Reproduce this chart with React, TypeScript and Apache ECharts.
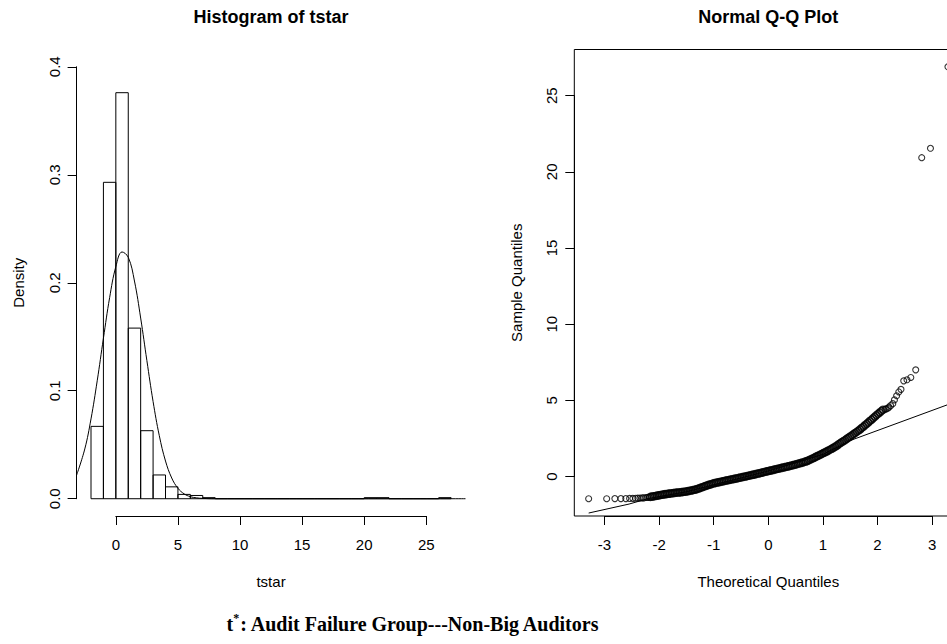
import React, { useEffect, useRef } from "react";
import * as echarts from "echarts";

// ---------------- data ----------------
// histogram of tstar (density per unit-width bin)
const histBreaks = [-2, -1, 0, 1, 2, 3, 4, 5, 6, 7, 8, 9, 10, 11, 12, 13, 14, 15, 16, 17, 18, 19, 20, 21, 22, 23, 24, 25, 26, 27];
const histDensity = [0.067, 0.293, 0.376, 0.158, 0.063, 0.022, 0.011, 0.004, 0.003, 0.001, 0, 0, 0, 0, 0, 0, 0, 0, 0, 0, 0, 0, 0.001, 0.001, 0, 0, 0, 0, 0.001];

// normal density curve drawn over the histogram
const curveX = [-3.16, -2.5, -2.0, -1.5, -1.0, -0.5, 0.0, 0.5, 1.0, 1.5, 2.0, 2.5, 3.0, 3.5, 4.0, 4.5, 5.0, 5.5, 6.0, 6.5, 7.0, 8.0, 28.16];
const curveY = [0.0218, 0.0461, 0.0739, 0.1092, 0.1486, 0.1862, 0.2149, 0.2285, 0.2236, 0.2016, 0.1673, 0.1279, 0.09, 0.0584, 0.0349, 0.0192, 0.0097, 0.0045, 0.0019, 0.0008, 0.0003, 0.0, 0.0];

const histXTicks = [0, 5, 10, 15, 20, 25];
const histYTicks = ["0.0", "0.1", "0.2", "0.3", "0.4"];

// normal Q-Q plot points
const qqTheoretical = [
  -3.29, -2.96, -2.81, -2.70, -2.61, -2.54, -2.48, -2.43, -2.39, -2.35, -2.31, -2.28, -2.24, -2.21, -2.18,
  -2.16, -2.13, -2.10, -2.07, -2.04, -2.01, -1.98, -1.95, -1.92, -1.89, -1.86, -1.83, -1.80, -1.77, -1.74,
  -1.71, -1.68, -1.65, -1.62, -1.59, -1.56, -1.53, -1.50, -1.47, -1.44, -1.41, -1.38, -1.35, -1.32, -1.29,
  -1.26, -1.23, -1.20, -1.17, -1.14, -1.11, -1.08, -1.05, -1.02, -0.99, -0.96, -0.93, -0.90, -0.87, -0.84,
  -0.81, -0.78, -0.75, -0.72, -0.69, -0.66, -0.63, -0.60, -0.57, -0.54, -0.51, -0.48, -0.45, -0.42, -0.39,
  -0.36, -0.33, -0.30, -0.27, -0.24, -0.21, -0.18, -0.15, -0.12, -0.09, -0.06, -0.03, 0.00, 0.03, 0.06,
  0.09, 0.12, 0.15, 0.18, 0.21, 0.24, 0.27, 0.30, 0.33, 0.36, 0.39, 0.42, 0.45, 0.48, 0.51,
  0.54, 0.57, 0.60, 0.63, 0.66, 0.69, 0.72, 0.75, 0.78, 0.81, 0.84, 0.87, 0.90, 0.93, 0.96,
  0.99, 1.02, 1.05, 1.08, 1.11, 1.14, 1.17, 1.20, 1.23, 1.26, 1.29, 1.32, 1.35, 1.38, 1.41,
  1.44, 1.47, 1.50, 1.53, 1.56, 1.59, 1.62, 1.65, 1.68, 1.71, 1.74, 1.77, 1.80, 1.83, 1.86,
  1.89, 1.92, 1.95, 1.98, 2.01, 2.04, 2.07, 2.10,
  2.14, 2.16, 2.19, 2.21, 2.24, 2.28, 2.31, 2.35, 2.39, 2.43, 2.48, 2.54, 2.61, 2.70, 2.81, 2.97, 3.29,
];
const qqSample = [
  -1.46, -1.46, -1.45, -1.45, -1.45, -1.44, -1.44, -1.43, -1.42, -1.41, -1.40, -1.40, -1.38, -1.37, -1.36,
  -1.34, -1.32, -1.30, -1.28, -1.26, -1.24, -1.22, -1.20, -1.18, -1.16, -1.15, -1.13, -1.12, -1.10, -1.09,
  -1.07, -1.06, -1.05, -1.04, -1.03, -1.01, -1.00, -0.98, -0.96, -0.94, -0.92, -0.89, -0.87, -0.84, -0.81,
  -0.77, -0.73, -0.69, -0.65, -0.61, -0.57, -0.54, -0.51, -0.47, -0.44, -0.42, -0.39, -0.37, -0.35, -0.32,
  -0.30, -0.27, -0.25, -0.23, -0.20, -0.18, -0.16, -0.14, -0.12, -0.09, -0.07, -0.04, -0.02, 0.00, 0.03,
  0.05, 0.08, 0.10, 0.12, 0.15, 0.17, 0.20, 0.22, 0.25, 0.28, 0.31, 0.33, 0.36, 0.38, 0.41,
  0.43, 0.46, 0.49, 0.51, 0.54, 0.56, 0.59, 0.61, 0.64, 0.66, 0.69, 0.72, 0.74, 0.77, 0.80,
  0.83, 0.86, 0.89, 0.92, 0.96, 0.99, 1.03, 1.08, 1.13, 1.18, 1.23, 1.29, 1.34, 1.39, 1.45,
  1.50, 1.56, 1.61, 1.66, 1.72, 1.78, 1.84, 1.90, 1.97, 2.04, 2.12, 2.19, 2.26, 2.33, 2.40,
  2.48, 2.55, 2.62, 2.70, 2.78, 2.85, 2.93, 3.01, 3.09, 3.18, 3.27, 3.36, 3.45, 3.54, 3.64,
  3.73, 3.82, 3.92, 4.02, 4.11, 4.20, 4.29, 4.38,
  4.42, 4.44, 4.48, 4.55, 4.65, 4.78, 5.03, 5.30, 5.55, 5.72, 6.28, 6.35, 6.50, 7.00, 20.93, 21.55, 26.90,
];

// reference line of the Q-Q plot
const qqLineX = [-3.29, -2.55, -2.2, -1.5, 0.0, 1.0, 1.5, 3.29];
const qqLineY = [-2.40, -1.81, -1.45, -1.0, 0.36, 1.45, 2.36, 4.72];

const qqXTicks = [-3, -2, -1, 0, 1, 2, 3];
const qqYTicks = [0, 5, 10, 15, 20, 25];

// ---------------- layout ----------------
const FONT = '"Liberation Sans", Arial, Helvetica, sans-serif';
const SERIF = '"Liberation Serif", "Times New Roman", serif';
const HIST = { left: 76.6, right: 465.5, top: 49.5, bottom: 516, xMin: -3.16, xMax: 28.16, yMin: -0.016, yMax: 0.416 };
const QQ = { left: 574.3, right: 962.3, top: 49.5, bottom: 516, xMin: -3.553, xMax: 3.553, yMin: -2.594, yMax: 28.034 };
// theoretical-quantile range where the points overlap into a solid band
const DENSE_FROM = -2.17;
const DENSE_TO = 2.11;

type Region = typeof HIST;
const px = (r: Region, v: number) => r.left + ((v - r.xMin) / (r.xMax - r.xMin)) * (r.right - r.left);
const py = (r: Region, v: number) => r.bottom - ((v - r.yMin) / (r.yMax - r.yMin)) * (r.bottom - r.top);

const baseGrid = { containLabel: false, outerBoundsMode: "none" } as any;
const fullGrid = (r: Region, extra: any = {}) => ({
  ...baseGrid,
  left: r.left,
  top: r.top,
  width: r.right - r.left,
  height: r.bottom - r.top,
  ...extra,
});

const hiddenAxis = (min: number, max: number, gridIndex: number) => ({
  type: "value",
  gridIndex,
  min,
  max,
  show: false,
  splitLine: { show: false },
});

const tickAxisCommon = {
  type: "value",
  axisLine: { show: true, lineStyle: { color: "#000", width: 1 } },
  axisTick: { show: true, inside: false, length: 9, lineStyle: { color: "#000", width: 1 } },
  splitLine: { show: false },
};
const labelStyle = { color: "#000", fontSize: 15, fontFamily: FONT };

export default function App() {
  const ref = useRef<HTMLDivElement>(null);

  useEffect(() => {
    if (!ref.current) return;
    const chart = echarts.init(ref.current, undefined, { renderer: "svg" });

    const hx0 = px(HIST, histXTicks[0]);
    const hx1 = px(HIST, histXTicks[histXTicks.length - 1]);
    const hyTop = py(HIST, 0.4);
    const hyBot = py(HIST, 0);
    const qx0 = px(QQ, qqXTicks[0]);
    const qx1 = px(QQ, qqXTicks[qqXTicks.length - 1]);
    const qyTop = py(QQ, qqYTicks[qqYTicks.length - 1]);
    const qyBot = py(QQ, qqYTicks[0]);

    const qqPairs = qqTheoretical.map((x, i) => [x, qqSample[i]]);
    const densePairs = qqPairs.filter((p) => p[0] >= DENSE_FROM && p[0] <= DENSE_TO);
    const sparsePairs = qqPairs.filter((p) => p[0] < DENSE_FROM || p[0] > DENSE_TO);

    const option: any = {
      animation: false,
      backgroundColor: "#fff",
      grid: [
        fullGrid(HIST),
        { ...baseGrid, left: hx0, width: hx1 - hx0, top: HIST.top, height: HIST.bottom - HIST.top },
        { ...baseGrid, left: HIST.left, width: HIST.right - HIST.left, top: hyTop, height: hyBot - hyTop },
        fullGrid(QQ, { show: true, borderColor: "#000", borderWidth: 1, backgroundColor: "transparent" }),
        { ...baseGrid, left: qx0, width: qx1 - qx0, top: QQ.top, height: QQ.bottom - QQ.top },
        { ...baseGrid, left: QQ.left, width: QQ.right - QQ.left, top: qyTop, height: qyBot - qyTop },
      ],
      xAxis: [
        hiddenAxis(HIST.xMin, HIST.xMax, 0),
        {
          ...tickAxisCommon,
          gridIndex: 1,
          position: "bottom",
          min: histXTicks[0],
          max: histXTicks[histXTicks.length - 1],
          interval: 5,
          axisLabel: { ...labelStyle, margin: 21 },
        },
        hiddenAxis(0, 1, 2),
        hiddenAxis(QQ.xMin, QQ.xMax, 3),
        {
          ...tickAxisCommon,
          gridIndex: 4,
          position: "bottom",
          min: qqXTicks[0],
          max: qqXTicks[qqXTicks.length - 1],
          interval: 1,
          axisLabel: { ...labelStyle, margin: 21 },
        },
        hiddenAxis(0, 1, 5),
      ],
      yAxis: [
        hiddenAxis(HIST.yMin, HIST.yMax, 0),
        hiddenAxis(0, 1, 1),
        {
          ...tickAxisCommon,
          gridIndex: 2,
          position: "left",
          min: 0,
          max: 0.4,
          interval: 0.1,
          axisLabel: {
            ...labelStyle,
            rotate: 90,
            margin: 15,
            formatter: (_v: number, i: number) => histYTicks[i],
          },
        },
        hiddenAxis(QQ.yMin, QQ.yMax, 3),
        hiddenAxis(0, 1, 4),
        {
          ...tickAxisCommon,
          gridIndex: 5,
          position: "left",
          min: qqYTicks[0],
          max: qqYTicks[qqYTicks.length - 1],
          interval: 5,
          axisLabel: { ...labelStyle, rotate: 90, margin: 15 },
        },
      ],
      series: [
        {
          type: "custom",
          xAxisIndex: 0,
          yAxisIndex: 0,
          clip: false,
          encode: { x: [0, 1], y: 2 },
          data: histDensity.map((d, i) => [histBreaks[i], histBreaks[i + 1], d]),
          renderItem: (_params: any, api: any) => {
            const x0 = api.value(0);
            const x1 = api.value(1);
            const h = api.value(2);
            const a = api.coord([x0, 0]);
            const b = api.coord([x0, h]);
            const c = api.coord([x1, h]);
            const d = api.coord([x1, 0]);
            return {
              type: "polyline",
              shape: { points: [a, b, c, d, a] },
              style: { stroke: "#000", fill: "none", lineWidth: 1 },
            };
          },
        },
        {
          type: "line",
          xAxisIndex: 0,
          yAxisIndex: 0,
          data: curveX.map((x, i) => [x, curveY[i]]),
          smooth: 0.4,
          showSymbol: false,
          symbol: "none",
          lineStyle: { color: "#000", width: 1 },
          clip: false,
        },
        {
          type: "scatter",
          xAxisIndex: 3,
          yAxisIndex: 3,
          data: densePairs,
          symbol: "circle",
          symbolSize: 7,
          itemStyle: { color: "rgba(0,0,0,0)", borderColor: "#000", borderWidth: 1.6 },
          clip: false,
        },
        {
          type: "scatter",
          xAxisIndex: 3,
          yAxisIndex: 3,
          data: sparsePairs,
          symbol: "circle",
          symbolSize: 6,
          itemStyle: { color: "rgba(0,0,0,0)", borderColor: "#000", borderWidth: 1.1 },
          clip: false,
        },
        {
          type: "line",
          xAxisIndex: 3,
          yAxisIndex: 3,
          data: qqLineX.map((x, i) => [x, qqLineY[i]]),
          showSymbol: false,
          symbol: "none",
          lineStyle: { color: "#000", width: 1 },
        },
      ],
      graphic: [
        {
          type: "text",
          x: (HIST.left + HIST.right) / 2,
          y: 17.3,
          style: { text: "Histogram of tstar", font: `bold 18px ${FONT}`, fill: "#000", align: "center", verticalAlign: "middle" },
        },
        {
          type: "text",
          x: (QQ.left + QQ.right) / 2,
          y: 17.3,
          style: { text: "Normal Q-Q Plot", font: `bold 18px ${FONT}`, fill: "#000", align: "center", verticalAlign: "middle" },
        },
        {
          type: "text",
          x: (HIST.left + HIST.right) / 2,
          y: 581.3,
          style: { text: "tstar", font: `15px ${FONT}`, fill: "#000", align: "center", verticalAlign: "middle" },
        },
        {
          type: "text",
          x: (QQ.left + QQ.right) / 2,
          y: 581.3,
          style: { text: "Theoretical Quantiles", font: `15px ${FONT}`, fill: "#000", align: "center", verticalAlign: "middle" },
        },
        {
          type: "text",
          x: 18.8,
          y: (HIST.top + HIST.bottom) / 2,
          rotation: Math.PI / 2,
          style: { text: "Density", font: `15px ${FONT}`, fill: "#000", align: "center", verticalAlign: "middle" },
        },
        {
          type: "text",
          x: 516.5,
          y: (QQ.top + QQ.bottom) / 2,
          rotation: Math.PI / 2,
          style: { text: "Sample Quantiles", font: `15px ${FONT}`, fill: "#000", align: "center", verticalAlign: "middle" },
        },
        {
          type: "text",
          x: 413,
          y: 624,
          style: {
            text: "{a|t}{s|*}{a|: Audit Failure Group---Non-Big Auditors}",
            align: "center",
            verticalAlign: "middle",
            rich: {
              a: { fontFamily: SERIF, fontWeight: "bold", fontSize: 20, fill: "#000", lineHeight: 24 },
              s: { fontFamily: SERIF, fontWeight: "bold", fontSize: 12, fill: "#000", verticalAlign: "top", lineHeight: 12 },
            },
          },
        },
      ],
    };

    chart.setOption(option);
    return () => chart.dispose();
  }, []);

  return (
    <div
      ref={ref}
      style={{ position: "fixed", left: 0, top: 0, width: 947, height: 644, background: "#fff" }}
    />
  );
}
